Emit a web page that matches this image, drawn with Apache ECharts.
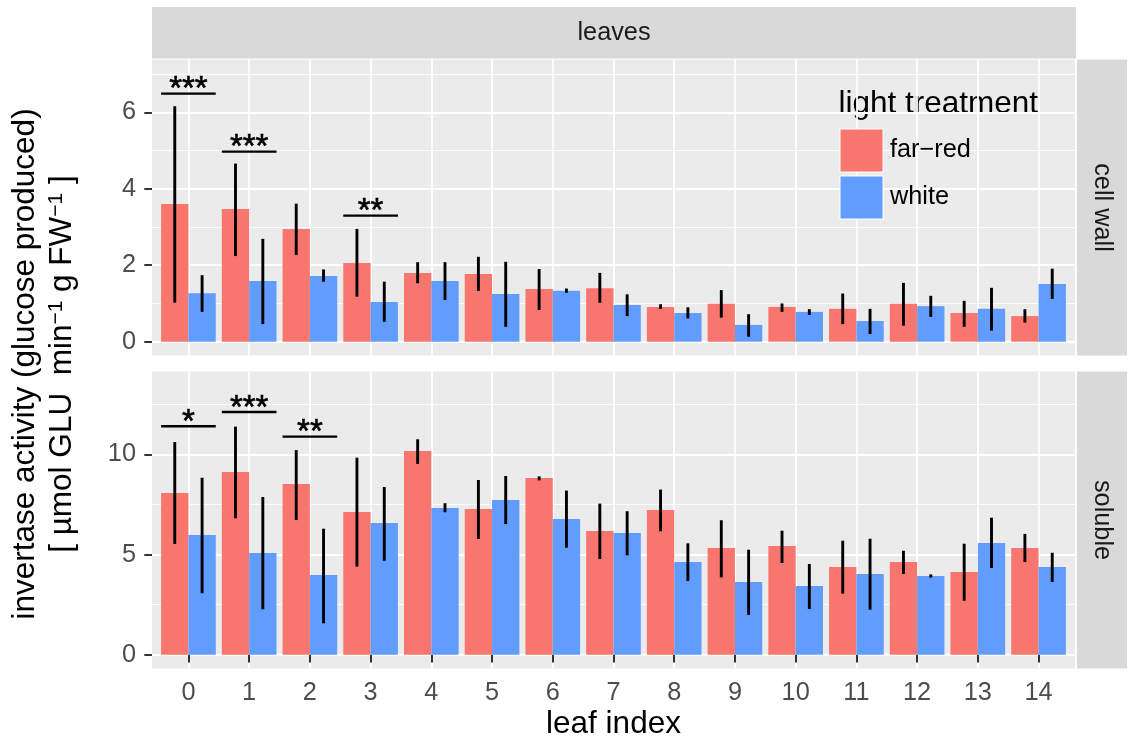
<!DOCTYPE html>
<html><head><meta charset="utf-8">
<script src="https://cdn.jsdelivr.net/npm/echarts@6/dist/echarts.min.js"></script>
<style>html,body{margin:0;padding:0;background:#fff}#chart{width:1131px;height:744px}</style>
</head><body><div id="chart"></div>
<script>
// ---------------- data ----------------
const categories = ['0','1','2','3','4','5','6','7','8','9','10','11','12','13','14'];
const groups = ['far\u2212red', 'white'];

const cellWallFarRed     = [3.60, 3.47, 2.95, 2.06, 1.80, 1.77, 1.38, 1.40, 0.91, 0.99, 0.91, 0.86, 0.99, 0.75, 0.67];
const cellWallFarRedLow  = [1.02, 2.24, 2.27, 1.18, 1.53, 1.33, 0.83, 1.02, 0.86, 0.63, 0.78, 0.46, 0.42, 0.39, 0.50];
const cellWallFarRedHigh = [6.16, 4.66, 3.61, 2.95, 2.08, 2.22, 1.90, 1.80, 0.98, 1.35, 1.00, 1.26, 1.54, 1.07, 0.85];
const cellWallWhite      = [1.27, 1.59, 1.72, 1.04, 1.59, 1.25, 1.33, 0.96, 0.75, 0.44, 0.78, 0.54, 0.93, 0.86, 1.51];
const cellWallWhiteLow   = [0.78, 0.46, 1.57, 0.52, 1.09, 0.39, 1.28, 0.67, 0.61, 0.13, 0.70, 0.20, 0.65, 0.29, 1.12];
const cellWallWhiteHigh  = [1.74, 2.69, 1.89, 1.57, 2.08, 2.09, 1.39, 1.24, 0.90, 0.72, 0.85, 0.86, 1.20, 1.41, 1.91];

const solubleFarRed      = [8.07, 9.12, 8.52, 7.12, 10.16, 7.27, 8.82, 6.17, 7.22, 5.33, 5.43, 4.38, 4.63, 4.13, 5.33];
const solubleFarRedLow   = [5.53, 6.81, 6.72, 4.40, 9.52, 5.78, 8.70, 4.78, 6.16, 3.86, 4.58, 3.05, 4.03, 2.70, 4.63];
const solubleFarRedHigh  = [10.61, 11.38, 10.21, 9.83, 10.75, 8.72, 8.90, 7.54, 8.24, 6.71, 6.19, 5.69, 5.19, 5.54, 6.03];
const solubleWhite       = [5.98, 5.08, 3.98, 6.57, 7.32, 7.72, 6.77, 6.07, 4.63, 3.63, 3.43, 4.03, 3.93, 5.58, 4.38];
const solubleWhiteLow    = [3.07, 2.27, 1.57, 4.69, 7.11, 6.52, 5.34, 4.96, 3.68, 1.99, 2.28, 2.25, 3.85, 4.33, 3.63];
const solubleWhiteHigh   = [8.83, 7.87, 6.29, 8.37, 7.56, 8.92, 8.19, 7.16, 5.56, 5.24, 4.53, 5.79, 4.01, 6.84, 5.09];

const cellWallTicks = [0, 2, 4, 6];
const solubleTicks  = [0, 5, 10];

const cellWallSigCat   = [0, 1, 3];
const cellWallSigY     = [6.49, 4.97, 3.30];
const cellWallSigLabel = ['***', '***', '**'];
const solubleSigCat    = [0, 1, 2];
const solubleSigY      = [11.40, 12.11, 10.88];
const solubleSigLabel  = ['*', '***', '**'];

// ---------------- layout ----------------
const W = 1131, H = 744;
const FONT = '"Liberation Sans", Arial, Helvetica, sans-serif';
const RED = '#F8766D', BLUE = '#619CFF';
const panelLeft = 152, panelRight = 1075;
const panels = [
  {top: 59.5, bottom: 355.5, yMin: -0.361, yMax: 7.382},
  {top: 371.5, bottom: 668.5, yMin: -0.683, yMax: 14.13}
];
const unit = (panelRight - panelLeft) / (categories.length + 0.2);
const inset = 0.6 * unit;

function yPix(p, v) { return p.bottom - (v - p.yMin) / (p.yMax - p.yMin) * (p.bottom - p.top); }

const grid = [], xAxis = [], yAxis = [], series = [];

function errRender(offset) {
  return function (params, api) {
    const i = api.value(0);
    const lo = api.coord([i, api.value(1)]);
    const hi = api.coord([i, api.value(2)]);
    const dx = offset * api.size([1, 0])[0];
    return {type: 'line', shape: {x1: lo[0] + dx, y1: lo[1], x2: hi[0] + dx, y2: hi[1]},
            style: {stroke: '#000', lineWidth: 2.9}};
  };
}
function sigRender(labels) {
  return function (params, api) {
    const c = api.coord([api.value(0), api.value(1)]);
    const bw = api.size([1, 0])[0];
    return {type: 'group', children: [
      {type: 'line', shape: {x1: c[0] - 0.45 * bw, y1: c[1], x2: c[0] + 0.45 * bw, y2: c[1]},
       style: {stroke: '#000', lineWidth: 2.3}},
      {type: 'text', x: c[0], y: c[1] - 3.5,
       style: {text: labels[params.dataIndex], align: 'center', verticalAlign: 'middle',
               textAlign: 'center', textVerticalAlign: 'middle',
               fontSize: 33, fontFamily: FONT, fill: '#000', stroke: '#000', lineWidth: 0.6}}
    ]};
  };
}

function addPanel(pi, ticks, showX, fr, frLo, frHi, wh, whLo, whHi, sigCat, sigY, sigLabel) {
  const p = panels[pi];
  const step = ticks[1] - ticks[0];
  const base = grid.length;
  grid.push({left: panelLeft, right: W - panelRight, top: p.top, bottom: H - p.bottom,
             show: true, backgroundColor: '#EBEBEB', borderWidth: 0});
  grid.push({left: panelLeft, right: W - panelRight, top: yPix(p, ticks[ticks.length - 1]), bottom: H - yPix(p, ticks[0])});
  const mMin = ticks[0] + step / 2, mMax = ticks[ticks.length - 1] + step / 2;
  grid.push({left: panelLeft, right: W - panelRight, top: yPix(p, mMax), bottom: H - yPix(p, mMin)});
  grid.push({left: panelLeft + inset, right: W - panelRight + inset, top: p.top, bottom: H - p.bottom});

  for (let k = 0; k < 3; k++) xAxis.push({gridIndex: base + k, type: 'value', show: false, min: 0, max: 1});
  xAxis.push({gridIndex: base + 3, type: 'category', data: categories, boundaryGap: false,
    axisLine: {show: false},
    axisTick: {show: showX, length: 7.7, interval: 0, lineStyle: {color: '#333333', width: 2}},
    axisLabel: {show: showX, interval: 0, margin: 12, fontSize: 25.3, color: '#4D4D4D', fontFamily: FONT},
    splitLine: {show: true, interval: 0, lineStyle: {color: '#FFFFFF', width: 1.8}}
  });
  yAxis.push({gridIndex: base, type: 'value', show: false, min: 0, max: 1});
  yAxis.push({gridIndex: base + 1, type: 'value', min: ticks[0], max: ticks[ticks.length - 1], interval: step,
    axisLine: {show: false},
    axisTick: {show: true, length: 7.7, lineStyle: {color: '#333333', width: 2}},
    axisLabel: {margin: 16, fontSize: 25.3, color: '#4D4D4D', fontFamily: FONT},
    splitLine: {show: true, lineStyle: {color: '#FFFFFF', width: 1.8}}
  });
  yAxis.push({gridIndex: base + 2, type: 'value', min: mMin, max: mMax, interval: step,
    axisLine: {show: false}, axisTick: {show: false}, axisLabel: {show: false},
    splitLine: {show: true, lineStyle: {color: '#FFFFFF', width: 0.9}}
  });
  yAxis.push({gridIndex: base + 3, type: 'value', show: false, min: p.yMin, max: p.yMax});

  const bi = base + 3;
  const barCommon = {type: 'bar', xAxisIndex: bi, yAxisIndex: bi, barCategoryGap: '10%', barGap: '0%',
                     clip: false, z: 2, emphasis: {disabled: true}};
  series.push(Object.assign({name: groups[0], data: fr, itemStyle: {color: RED}}, barCommon));
  series.push(Object.assign({name: groups[1], data: wh, itemStyle: {color: BLUE}}, barCommon));
  series.push({type: 'custom', xAxisIndex: bi, yAxisIndex: bi, z: 3, silent: true,
    data: fr.map((v, i) => [i, frLo[i], frHi[i]]), encode: {x: 0, y: [1, 2]}, renderItem: errRender(-0.225)});
  series.push({type: 'custom', xAxisIndex: bi, yAxisIndex: bi, z: 3, silent: true,
    data: wh.map((v, i) => [i, whLo[i], whHi[i]]), encode: {x: 0, y: [1, 2]}, renderItem: errRender(0.225)});
  series.push({type: 'custom', xAxisIndex: bi, yAxisIndex: bi, z: 4, silent: true, clip: false,
    data: sigCat.map((c, i) => [c, sigY[i]]), encode: {x: 0, y: 1}, renderItem: sigRender(sigLabel)});
}

addPanel(0, cellWallTicks, false, cellWallFarRed, cellWallFarRedLow, cellWallFarRedHigh,
         cellWallWhite, cellWallWhiteLow, cellWallWhiteHigh, cellWallSigCat, cellWallSigY, cellWallSigLabel);
addPanel(1, solubleTicks, true, solubleFarRed, solubleFarRedLow, solubleFarRedHigh,
         solubleWhite, solubleWhiteLow, solubleWhiteHigh, solubleSigCat, solubleSigY, solubleSigLabel);

const stripColor = '#D9D9D9';
const graphic = [
  {type: 'rect', shape: {x: panelLeft, y: 7, width: 1076 - panelLeft, height: 51.5}, style: {fill: stripColor}, silent: true},
  {type: 'text', x: (panelLeft + 1076) / 2, y: 33, style: {text: 'leaves', align: 'center', verticalAlign: 'middle',
    fontSize: 25.3, fontFamily: FONT, fill: '#1A1A1A'}},
  {type: 'rect', shape: {x: 1077, y: panels[0].top, width: 50, height: panels[0].bottom - panels[0].top}, style: {fill: stripColor}, silent: true},
  {type: 'rect', shape: {x: 1077, y: panels[1].top, width: 50, height: panels[1].bottom - panels[1].top}, style: {fill: stripColor}, silent: true},
  {type: 'text', x: 1102, y: (panels[0].top + panels[0].bottom) / 2, rotation: -Math.PI / 2,
    style: {text: 'cell wall', align: 'center', verticalAlign: 'middle', fontSize: 25.3, fontFamily: FONT, fill: '#1A1A1A'}},
  {type: 'text', x: 1102, y: (panels[1].top + panels[1].bottom) / 2, rotation: -Math.PI / 2,
    style: {text: 'soluble', align: 'center', verticalAlign: 'middle', fontSize: 25.3, fontFamily: FONT, fill: '#1A1A1A'}},
  {type: 'text', x: (panelLeft + panelRight) / 2, y: 724, style: {text: 'leaf index', align: 'center', verticalAlign: 'middle',
    fontSize: 31.5, fontFamily: FONT, fill: '#000'}},
  {type: 'text', x: 25, y: (panels[0].top + panels[1].bottom) / 2, rotation: Math.PI / 2,
    style: {text: 'invertase activity (glucose produced)', align: 'center', verticalAlign: 'middle',
    fontSize: 31.5, fontFamily: FONT, fill: '#000'}},
  {type: 'text', x: 62, y: (panels[0].top + panels[1].bottom) / 2, rotation: Math.PI / 2,
    style: {text: '[ \u00B5mol GLU  min{sup|\u22121} g FW{sup|\u22121} ]', align: 'center', verticalAlign: 'middle',
    fontSize: 31.5, fontFamily: FONT, fill: '#000',
    rich: {sup: {fontSize: 21, fontFamily: FONT, fill: '#000', verticalAlign: 'top', lineHeight: 8}}}},
  {type: 'text', x: 838.5, y: 104, style: {text: 'light treatment', align: 'left', verticalAlign: 'middle',
    fontSize: 31.5, fontFamily: FONT, fill: '#000'}}
];

const chart = echarts.init(document.getElementById('chart'), null, {renderer: 'canvas'});
chart.setOption({
  animation: false,
  backgroundColor: '#FFFFFF',
  grid: grid, xAxis: xAxis, yAxis: yAxis, series: series,
  legend: {data: groups, left: 839.5, top: 128.5, orient: 'vertical', padding: 0,
    itemWidth: 43, itemHeight: 43, itemGap: 3, icon: 'rect', selectedMode: false,
    itemStyle: {borderColor: '#FFFFFF', borderWidth: 1},
    textStyle: {fontSize: 25.3, color: '#000', fontFamily: FONT, padding: [0, 0, 0, 2]}},
  graphic: graphic
});
</script></body></html>
